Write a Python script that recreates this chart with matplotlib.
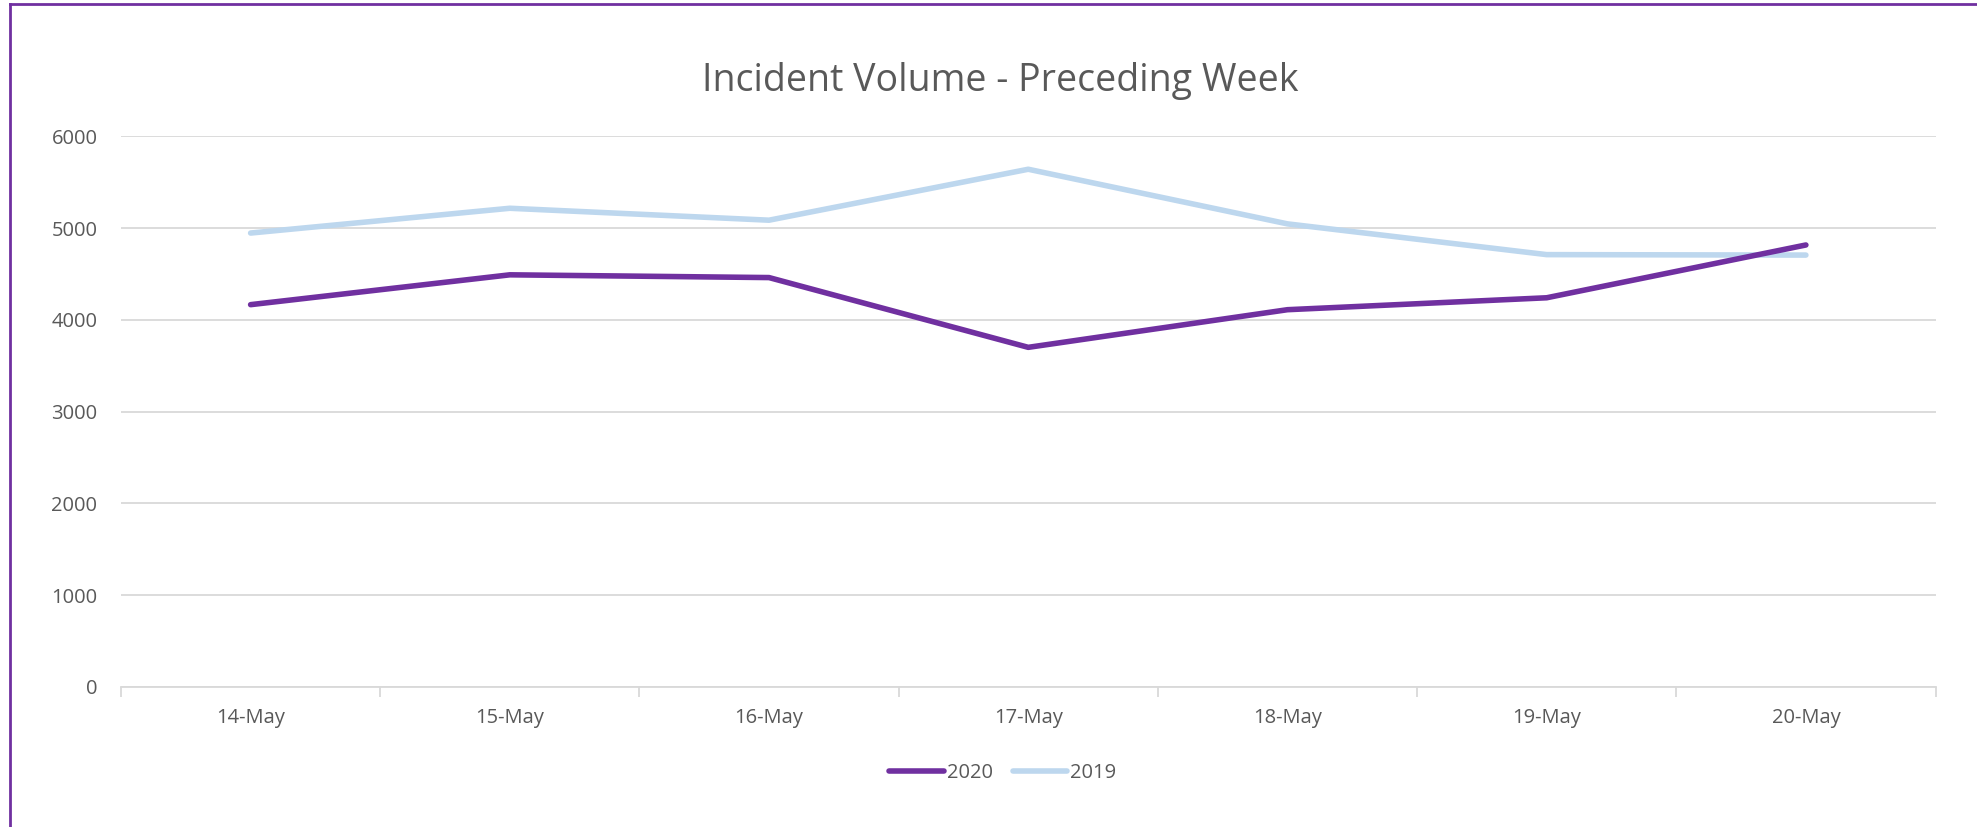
import matplotlib
matplotlib.use("Agg")
import matplotlib.pyplot as plt
from matplotlib.lines import Line2D

categories = ["14-May", "15-May", "16-May", "17-May", "18-May", "19-May", "20-May"]
series_2020 = [4165, 4490, 4460, 3700, 4110, 4240, 4815]
series_2019 = [4945, 5215, 5085, 5640, 5045, 4710, 4705]
yticks = [0, 1000, 2000, 3000, 4000, 5000, 6000]

TEXT = "#595959"
GRID = "#D9D9D9"
C2020 = "#7030A0"
C2019 = "#BDD7EE"

plt.rcParams['font.family'] = ['Open Sans', 'DejaVu Sans']

W, H = 1977, 827
fig = plt.figure(figsize=(W / 100, H / 100), dpi=100)
ax = fig.add_axes([121 / W, 1 - 687 / H, (1935.5 - 121) / W, (687 - 136.2) / H])

x = list(range(len(categories)))
ax.plot(x, series_2020, color=C2020, lw=4, solid_capstyle='round', solid_joinstyle='round', label="2020", zorder=3)
ax.plot(x, series_2019, color=C2019, lw=4, solid_capstyle='round', solid_joinstyle='round', label="2019", zorder=2)

ax.set_xlim(-0.5, len(categories) - 0.5)
ax.set_ylim(0, 6000)
ax.set_yticks(yticks)
ax.set_yticklabels([str(v) for v in yticks])
ax.set_xticks(x)
ax.set_xticklabels(categories)
ax.set_xticks([i - 0.5 for i in range(len(categories) + 1)], minor=True)

ax.grid(axis='y', color=GRID, lw=1.3)
ax.set_axisbelow(True)
for s in ['top', 'right', 'left']:
    ax.spines[s].set_visible(False)
ax.spines['bottom'].set_color(GRID)
ax.spines['bottom'].set_linewidth(1.3)

ax.tick_params(axis='y', length=0, pad=17, labelsize=14.5, labelcolor=TEXT)
ax.tick_params(axis='x', which='major', length=0, pad=15, labelsize=14.5, labelcolor=TEXT)
ax.tick_params(axis='x', which='minor', length=7, width=1.3, color=GRID)

fig.text(1000 / W, 1 - 81 / H, "Incident Volume - Preceding Week", ha='center', va='center',
         fontsize=27, color=TEXT)

leg = fig.legend(loc='center', bbox_to_anchor=(1003 / W, 1 - 773 / H), ncol=2, frameon=False,
                 fontsize=14.5, handlelength=2.7, handletextpad=0.15, columnspacing=1.0,
                 labelcolor=TEXT)

# outer border (top and left visible)
fig.add_artist(Line2D([10 / W, 10 / W], [0, 1 - 4 / H], transform=fig.transFigure, color=C2020, lw=2))
fig.add_artist(Line2D([10 / W, 1], [1 - 4 / H, 1 - 4 / H], transform=fig.transFigure, color=C2020, lw=2))

fig.savefig("out.png", dpi=100, facecolor='white')
